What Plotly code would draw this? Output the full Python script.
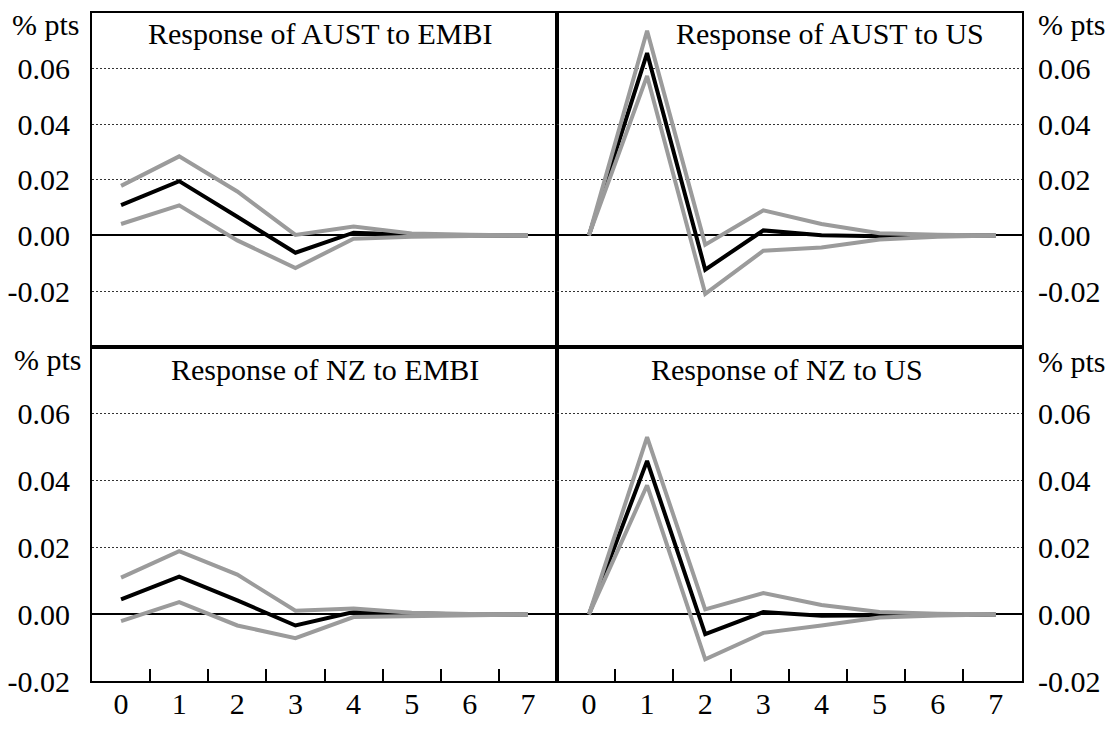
import plotly.graph_objects as go

horizons = [0, 1, 2, 3, 4, 5, 6, 7]
tick_labels = ["0", "1", "2", "3", "4", "5", "6", "7"]

# response of AUST to EMBI
aust_embi = [0.0109, 0.0195, 0.0067, -0.0062, 0.0010, 0.0002, 0.0, 0.0]
aust_embi_hi = [0.0178, 0.0284, 0.0158, 0.0002, 0.0032, 0.0007, 0.0002, 0.0]
aust_embi_lo = [0.0041, 0.0108, -0.0018, -0.0117, -0.0012, -0.0005, -0.0002, 0.0]

# response of AUST to US
aust_us = [0.0, 0.0655, -0.0123, 0.0018, 0.0001, -0.0003, 0.0, 0.0]
aust_us_hi = [0.0, 0.0735, -0.0033, 0.0090, 0.0041, 0.0008, 0.0002, 0.0]
aust_us_lo = [0.0, 0.0573, -0.0210, -0.0055, -0.0043, -0.0015, -0.0005, 0.0]

# response of NZ to EMBI
nz_embi = [0.0045, 0.0113, 0.0042, -0.0033, 0.0007, 0.0002, 0.0, 0.0]
nz_embi_hi = [0.0110, 0.0189, 0.0119, 0.0011, 0.0018, 0.0005, 0.0001, 0.0]
nz_embi_lo = [-0.0020, 0.0037, -0.0033, -0.0071, -0.0008, -0.0006, -0.0003, 0.0]

# response of NZ to US
nz_us = [0.0, 0.0459, -0.0059, 0.0007, -0.0004, -0.0002, 0.0, 0.0]
nz_us_hi = [0.0, 0.0530, 0.0015, 0.0064, 0.0028, 0.0007, 0.0002, 0.0]
nz_us_lo = [0.0, 0.0386, -0.0134, -0.0055, -0.0033, -0.0009, -0.0003, 0.0]

top_ticks = [-0.04, -0.02, 0.0, 0.02, 0.04, 0.06, 0.08]
top_text = ["", "-0.02", "0.00", "0.02", "0.04", "0.06", ""]
bot_ticks = [-0.02, 0.0, 0.02, 0.04, 0.06, 0.08]
bot_text = ["-0.02", "0.00", "0.02", "0.04", "0.06", ""]

FONT = "Liberation Serif"
GREY = "#9b9b9b"

panels = [
    ("Response of AUST to EMBI", aust_embi, aust_embi_hi, aust_embi_lo, "x", "y"),
    ("Response of AUST to US", aust_us, aust_us_hi, aust_us_lo, "x2", "y2"),
    ("Response of NZ to EMBI", nz_embi, nz_embi_hi, nz_embi_lo, "x3", "y3"),
    ("Response of NZ to US", nz_us, nz_us_hi, nz_us_lo, "x4", "y4"),
]

fig = go.Figure()
for title, mid, hi, lo, xa, ya in panels:
    fig.add_scatter(x=horizons, y=mid, mode="lines", line=dict(color="black", width=4),
                    xaxis=xa, yaxis=ya, showlegend=False)
    fig.add_scatter(x=horizons, y=hi, mode="lines", line=dict(color=GREY, width=4),
                    xaxis=xa, yaxis=ya, showlegend=False)
    fig.add_scatter(x=horizons, y=lo, mode="lines", line=dict(color=GREY, width=4),
                    xaxis=xa, yaxis=ya, showlegend=False)

W, H = 1111, 734
xl = [92 / W, 557 / W]
xr = [557 / W, 1022 / W]
yt = [(H - 355) / H, (H - 13) / H]
yb = [(H - 697.5) / H, (H - 355) / H]

frame = dict(showline=True, mirror=True, linewidth=2, linecolor="black", fixedrange=True)


def xaxis(domain, anchor, rng, labels, minor_vals):
    ax = dict(frame, domain=domain, anchor=anchor, range=rng, showgrid=False, zeroline=False,
              tickmode="array", tickvals=horizons, ticktext=tick_labels, ticks="",
              showticklabels=labels, ticklabelstandoff=-5,
              tickfont=dict(family=FONT, size=30, color="black"))
    if labels:
        ax["minor"] = dict(tickmode="array", tickvals=minor_vals, ticks="inside", ticklen=12,
                           tickwidth=1.5, tickcolor="black", showgrid=False)
    return ax


def yaxis(domain, anchor, rng, vals, text, side, standoff):
    return dict(frame, domain=domain, anchor=anchor, range=rng, side=side,
                tickmode="array", tickvals=vals, ticktext=text, ticks="",
                showgrid=True, gridcolor="#333333", gridwidth=1, griddash="2px,2px",
                zeroline=True, zerolinecolor="black", zerolinewidth=1.5,
                ticklabelstandoff=standoff,
                tickfont=dict(family=FONT, size=30, color="black"))


left_minor = [0.5, 1.5, 2.5, 3.5, 4.5, 5.5, 6.5]
right_minor = [0.44, 1.44, 2.44, 3.44, 4.44, 5.44, 6.44]

fig.update_layout(
    width=W, height=H,
    margin=dict(l=0, r=0, t=0, b=0),
    paper_bgcolor="white", plot_bgcolor="white",
    font=dict(family=FONT, color="black"),
    xaxis=xaxis(xl, "y", [-0.5, 7.5], False, None),
    xaxis2=xaxis(xr, "y2", [-0.55, 7.45], False, None),
    xaxis3=xaxis(xl, "y3", [-0.5, 7.5], True, left_minor),
    xaxis4=xaxis(xr, "y4", [-0.55, 7.45], True, right_minor),
    yaxis=yaxis(yt, "x", [-0.04, 0.08], top_ticks, top_text, "left", 14),
    yaxis2=yaxis(yt, "x2", [-0.04, 0.08], top_ticks, top_text, "right", 8),
    yaxis3=yaxis(yb, "x3", [-0.02, 0.08], bot_ticks, bot_text, "left", 14),
    yaxis4=yaxis(yb, "x4", [-0.02, 0.08], bot_ticks, bot_text, "right", 8),
)

title_pos = [(0.49, 34), (0.587, 34), (0.5, 378), (0.495, 378)]
for (title, *_rest, xa, ya), (tx, ty) in zip(panels, title_pos):
    fig.add_annotation(text=title, xref=f"{xa} domain", yref="paper", x=tx, y=1 - ty / H,
                       xanchor="center", yanchor="middle", showarrow=False,
                       font=dict(family=FONT, size=30, color="black"))

for px, py in [(46, 25), (1072, 25), (48, 368), (1072, 370)]:
    fig.add_annotation(text="% pts", xref="paper", yref="paper", x=px / W, y=1 - py / H,
                       xanchor="center", yanchor="middle", showarrow=False,
                       font=dict(family=FONT, size=30, color="black"))

fig.write_html("out.html", config={"displayModeBar": False},
               post_script="document.body.style.margin='0';")
